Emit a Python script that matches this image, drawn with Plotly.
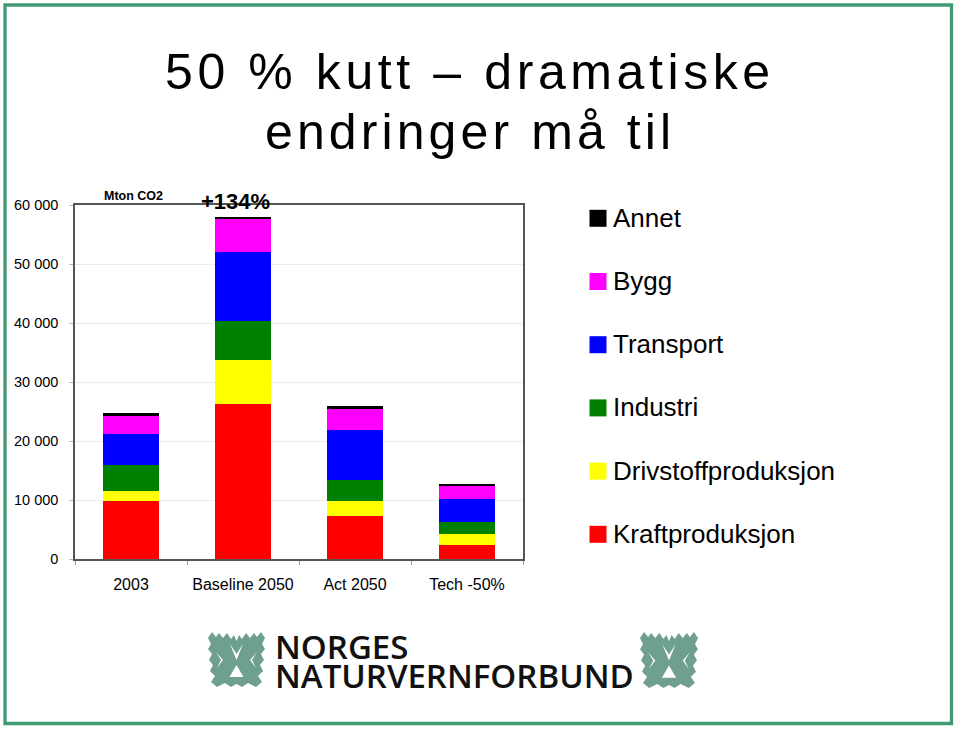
import plotly.graph_objects as go

# ---------------- data ----------------
categories = ["2003", "Baseline 2050", "Act 2050", "Tech -50%"]
series_names = ["Kraftproduksjon", "Drivstoffproduksjon", "Industri", "Transport", "Bygg", "Annet"]
kraftproduksjon = [9800, 26200, 7300, 2300]
drivstoffproduksjon = [1800, 7600, 2600, 1900]
industri = [4400, 6500, 3500, 2100]
transport = [5250, 11800, 8500, 3900]
bygg = [3150, 5500, 3600, 2200]
annet = [300, 350, 350, 250]
series_values = [kraftproduksjon, drivstoffproduksjon, industri, transport, bygg, annet]
series_colors = ["#ff0000", "#ffff00", "#008000", "#0000ff", "#ff00ff", "#000000"]

ytick_vals = [0, 10000, 20000, 30000, 40000, 50000, 60000]
ytick_text = ["0", "10 000", "20 000", "30 000", "40 000", "50 000", "60 000"]

title_lines = ["50 % kutt – dramatiske", "endringer må til"]
unit_label = "Mton CO2"
growth_label = "+134%"
logo_lines = ["NORGES", "NATURVERNFORBUND"]

# ---------------- helpers (pixel -> paper) ----------------
W, H = 960, 732
def px(x):
    return x / W
def py(y):
    return 1 - y / H

FONT = "Liberation Sans, Arial, Helvetica, sans-serif"

fig = go.Figure()
for name, vals, col in zip(series_names, series_values, series_colors):
    fig.add_trace(go.Bar(
        x=categories, y=vals, name=name,
        marker=dict(color=col, line=dict(width=0)),
        showlegend=False,
        hovertemplate=name + ": %{y}<extra></extra>",
    ))

shapes = []
annotations = []

# page border
shapes.append(dict(type="rect", xref="paper", yref="paper",
                   x0=px(5), x1=px(951.5), y0=py(5), y1=py(723.5),
                   line=dict(color="#3f9a72", width=3.3), fillcolor="rgba(0,0,0,0)", layer="above"))

# title
for line, yy, sp in zip(title_lines, [72, 132], [4.6, 4.1]):
    annotations.append(dict(
        xref="paper", yref="paper", x=px(470), y=py(yy),
        xanchor="center", yanchor="middle", showarrow=False,
        text='<span style="letter-spacing:%.1fpx">' % sp + line + '</span>',
        font=dict(family=FONT, size=50, color="#000000")))

# unit label and growth label
annotations.append(dict(xref="paper", yref="paper", x=px(133), y=py(196),
                        xanchor="center", yanchor="middle", showarrow=False,
                        text="<b>" + unit_label + "</b>",
                        font=dict(family=FONT, size=12.5, color="#000000")))
annotations.append(dict(xref="paper", yref="paper", x=px(235), y=py(201),
                        xanchor="center", yanchor="middle", showarrow=False,
                        text="<b>" + growth_label + "</b>",
                        font=dict(family=FONT, size=22, color="#000000")))

# manual legend (top entry = last series)
leg_top, leg_step = 218.3, 63.2
for i, (name, col) in enumerate(zip(series_names[::-1], series_colors[::-1])):
    cy = leg_top + i * leg_step
    shapes.append(dict(type="rect", xref="paper", yref="paper",
                       x0=px(589.5), x1=px(606.5), y0=py(cy - 8.5), y1=py(cy + 8.5),
                       fillcolor=col, line=dict(width=0)))
    annotations.append(dict(xref="paper", yref="paper", x=px(611), y=py(cy - 0.5),
                            xanchor="left", yanchor="middle", showarrow=False,
                            text=name, font=dict(family=FONT, size=26, color="#000000")))

# logo text: one text block, tight line spacing (1.3 x 22px) with 33px glyphs
logo_text = "<br>".join('<span style="font-size:33px">' + l + '</span>' for l in logo_lines)
annotations.append(dict(xref="paper", yref="paper", x=px(273), y=py(660.5),
                        xanchor="left", yanchor="middle", showarrow=False, align="left",
                        text=logo_text,
                        font=dict(family="Open Sans, sans-serif", size=22, color="#111111", weight=600)))

# logo emblems (decorative)
outline = [(0, 6), (4, 0), (8, 5), (11, 1), (15, 6), (19, 1), (23, 7), (26, 3), (28.5, 9), (31, 3),
           (34, 7), (38, 1), (42, 6), (46, 1), (49, 5), (53, 0), (57, 6), (54, 12), (57, 17),
           (53, 22), (56, 28), (52, 33), (55, 39), (50, 44), (54, 50), (48, 55), (40, 51),
           (34, 55), (28.5, 52), (23, 55), (17, 51), (9, 55), (3, 50), (7, 44), (2, 39),
           (5, 33), (1, 28), (4, 22), (0, 17), (3, 12)]
inner_v = [(22, 12), (28.5, 22), (35, 12), (28.5, 28)]
inner_tri = [(21.5, 45), (28.5, 33), (35.5, 45)]
inner_l = [(8, 20), (15, 28), (9, 36), (13, 28)]
inner_r = [(49, 20), (42, 28), (48, 36), (44, 28)]

def poly_path(pts, ox, oy, sx, sy):
    s = ""
    for k, (a, b) in enumerate(pts):
        s += ("M" if k == 0 else "L") + f"{px(ox + a * sx):.5f},{py(oy + b * sy):.5f}"
    return s + "Z"

for ox, oy, w, h in [(208, 632, 57, 55), (640, 632, 58, 56)]:
    sx, sy = w / 57, h / 55
    shapes.append(dict(type="path", xref="paper", yref="paper",
                       path=poly_path(outline, ox, oy, sx, sy),
                       fillcolor="#6fa08d", line=dict(width=0)))
    for pts in (inner_v, inner_tri, inner_l, inner_r):
        shapes.append(dict(type="path", xref="paper", yref="paper",
                           path=poly_path(pts, ox, oy, sx, sy),
                           fillcolor="#ffffff", line=dict(width=0)))

fig.update_layout(
    width=W, height=H, autosize=False,
    margin=dict(l=0, r=0, t=0, b=0, pad=0, autoexpand=False),
    paper_bgcolor="#ffffff", plot_bgcolor="#ffffff",
    barmode="stack", bargap=0.5,
    font=dict(family=FONT, color="#000000"),
    shapes=shapes, annotations=annotations,
    xaxis=dict(domain=[px(75), px(523)], type="category", range=[-0.5, 3.5],
               tickson="boundaries", ticks="outside", ticklen=4, tickcolor="#999999",
               showline=True, linecolor="#555555", linewidth=1.5, mirror=True,
               showgrid=False, tickfont=dict(family=FONT, size=16, color="#000000"),
               ticklabelstandoff=10, automargin=False),
    yaxis=dict(domain=[py(559), py(205)], range=[0, 60000],
               tickvals=ytick_vals, ticktext=ytick_text,
               ticks="outside", ticklen=4, tickcolor="#bbbbbb",
               showline=True, linecolor="#555555", linewidth=1.5, mirror=True,
               showgrid=True, gridcolor="#ececec", gridwidth=1, zeroline=False,
               tickfont=dict(family=FONT, size=14.5, color="#000000"),
               ticklabelstandoff=8, automargin=False),
)

fig.write_html("out.html")
